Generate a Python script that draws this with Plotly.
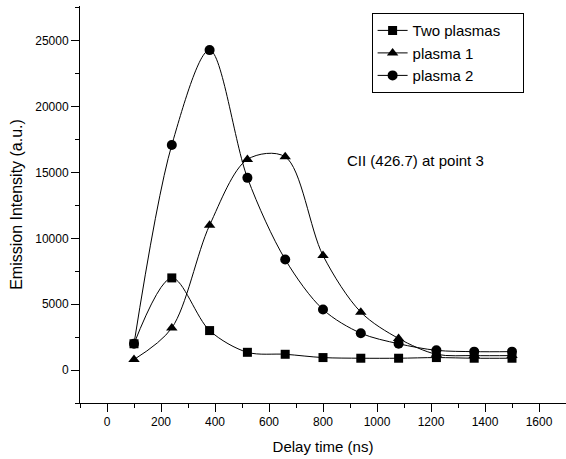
import plotly.graph_objects as go

delay = [100, 240, 380, 520, 660, 800, 940, 1080, 1220, 1360, 1500]
two_plasmas = [2000, 7000, 3000, 1350, 1200, 950, 900, 900, 950, 900, 900]
plasma_1 = [800, 3200, 11000, 16000, 16200, 8700, 4400, 2400, 1200, 1100, 1100]
plasma_2 = [2000, 17100, 24300, 14600, 8400, 4600, 2800, 2000, 1500, 1400, 1400]

x_ticks = [0, 200, 400, 600, 800, 1000, 1200, 1400, 1600]
y_ticks = [0, 5000, 10000, 15000, 20000, 25000]

series = [
    ("Two plasmas\u00a0\u00a0\u00a0\u00a0", two_plasmas, "square", 9),
    ("plasma 1", plasma_1, "triangle-up", 10),
    ("plasma 2", plasma_2, "circle", 10),
]

FONT = "Liberation Sans, Arial, sans-serif"

fig = go.Figure()
for name, vals, sym, sz in series:
    fig.add_trace(go.Scatter(
        x=delay, y=vals, name=name, mode="lines+markers",
        line=dict(color="black", width=1, shape="spline", smoothing=0.9),
        marker=dict(symbol=sym, size=sz, color="black"),
    ))

fig.add_annotation(x=1143, y=15880, xref="x", yref="y", text="CII (426.7) at point 3",
                   showarrow=False, font=dict(size=15, color="black", family=FONT))

axis_common = dict(showline=True, linecolor="black", linewidth=1, ticks="outside",
                   ticklen=8, tickcolor="black", showgrid=False, zeroline=False,
                   automargin=False,
                   tickfont=dict(size=12, color="black", family=FONT))

fig.update_layout(
    width=566, height=459,
    margin=dict(l=80, r=0, t=6, b=56),
    paper_bgcolor="white", plot_bgcolor="white",
    font=dict(family=FONT, color="black"),
    xaxis=dict(range=[-100, 1700], tickvals=x_ticks, ticktext=[str(v) for v in x_ticks],
               minor=dict(ticks="outside", ticklen=4, dtick=100, tick0=0, tickcolor="black"),
               title=dict(text="Delay time (ns)", font=dict(size=15, family=FONT), standoff=13),
               **axis_common),
    yaxis=dict(range=[-2500, 27650], tickvals=y_ticks, ticktext=[str(v) for v in y_ticks],
               minor=dict(ticks="outside", ticklen=4, dtick=2500, tick0=0, tickcolor="black"),
               title=dict(text="Emission Intensity (a.u.)", font=dict(size=16, family=FONT), standoff=8),
               **axis_common),
    legend=dict(x=0.6, y=0.982, xanchor="left", yanchor="top",
                bordercolor="black", borderwidth=1, bgcolor="white",
                font=dict(size=15, family=FONT, color="black"),
                tracegroupgap=0, itemwidth=30),
    showlegend=True,
)

fig.write_html("out.html", config={"displayModeBar": False},
               post_script="document.body.style.margin='0';document.body.style.padding='0';")
